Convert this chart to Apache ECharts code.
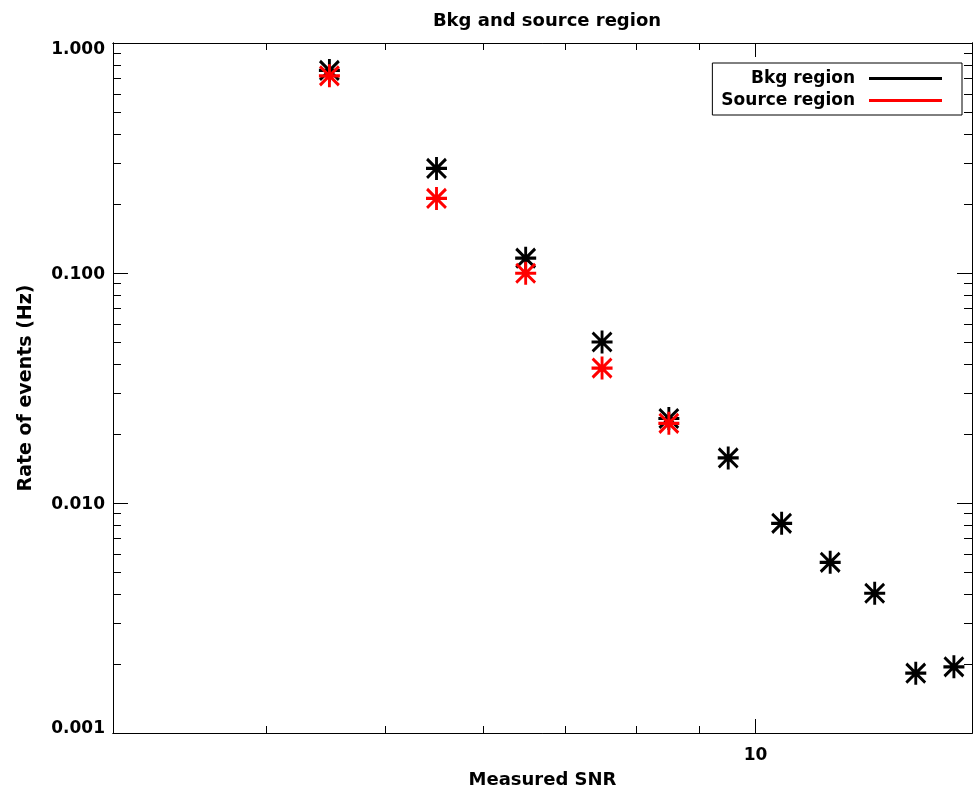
<!DOCTYPE html>
<html>
<head>
<meta charset="utf-8">
<script src="https://cdn.jsdelivr.net/npm/echarts@6/dist/echarts.min.js"></script>
<style>
html,body{margin:0;padding:0;background:#fff;}
#chart{width:977px;height:794px;}
</style>
</head>
<body>
<div id="chart"></div>
<script>
// ---- data ----
var snr = [4.5, 5.5, 6.5, 7.5, 8.5, 9.5, 10.5, 11.5, 12.5, 13.5, 14.5];
var bkgRate = [0.76, 0.285, 0.116, 0.0501, 0.0233, 0.0157, 0.00816, 0.00552, 0.00405, 0.00182, 0.00194];
var srcRate = [0.72, 0.211, 0.0997, 0.0386, 0.0222];
var seriesNames = ['Bkg region', 'Source region'];
var xMajorTicks = [10];
var xMinorTicks = [4, 5, 6, 7, 8, 9];
var yMajorTicks = [0.001, 0.01, 0.1, 1];
var yTickLabels = ['0.001', '0.010', '0.100', '1.000'];
var yMinorTicks = [0.002, 0.003, 0.004, 0.005, 0.006, 0.007, 0.008, 0.009,
                   0.02, 0.03, 0.04, 0.05, 0.06, 0.07, 0.08, 0.09,
                   0.2, 0.3, 0.4, 0.5, 0.6, 0.7, 0.8, 0.9];

var FONT = 'DejaVu Sans';
var lineStyle = {color: '#000', width: 1};

function xAx(pos, ticks, len, labels, extra) {
  var a = {
    type: 'log', logBase: 10, min: 3, max: 15, position: pos,
    axisLine: {show: true, onZero: false, lineStyle: lineStyle},
    axisTick: {show: true, inside: true, length: len, customValues: ticks, lineStyle: lineStyle},
    axisLabel: labels ? {show: true, customValues: ticks, margin: 14, fontFamily: FONT, fontSize: 17,
      fontWeight: 'bold', color: '#000',
      formatter: function (v) { return String(Math.round(v)); }} : {show: false},
    splitLine: {show: false}, minorTick: {show: false}
  };
  return Object.assign(a, extra || {});
}
function yAx(pos, ticks, len, labels, extra) {
  var a = {
    type: 'log', logBase: 10, min: 0.001, max: 1, position: pos,
    axisLine: {show: true, onZero: false, lineStyle: lineStyle},
    axisTick: {show: true, inside: true, length: len, customValues: ticks, lineStyle: lineStyle},
    axisLabel: labels ? {show: true, customValues: ticks, margin: 8, fontFamily: FONT, fontSize: 17, color: '#000',
      formatter: function (v) {
        var i = 0, best = 1e9;
        for (var k = 0; k < yMajorTicks.length; k++) {
          var d = Math.abs(Math.log10(v) - Math.log10(yMajorTicks[k]));
          if (d < best) { best = d; i = k; }
        }
        var key = i === yMajorTicks.length - 1 ? 'top' : (i === 0 ? 'bot' : 'mid');
        return '{' + key + '|' + yTickLabels[i] + '}';
      },
      rich: {
        top: {fontFamily: FONT, fontSize: 17, fontWeight: 'bold', color: '#000', padding: [14, 0, 0, 0]},
        mid: {fontFamily: FONT, fontSize: 17, fontWeight: 'bold', color: '#000', padding: [4, 0, 0, 0]},
        bot: {fontFamily: FONT, fontSize: 17, fontWeight: 'bold', color: '#000', padding: [0, 0, 8, 0]}
      }
    } : {show: false},
    splitLine: {show: false}, minorTick: {show: false}
  };
  return Object.assign(a, extra || {});
}

var starPath = 'path://M10,0L10,22M0,11L20,11M1,2L19,20M1,20L19,2';

function pts(xs, ys) {
  var out = [];
  for (var i = 0; i < ys.length; i++) out.push([xs[i], ys[i]]);
  return out;
}

var chart = echarts.init(document.getElementById('chart'), null, {renderer: 'canvas'});
chart.setOption({
  backgroundColor: '#fff',
  animation: false,
  title: {
    text: 'Bkg and source region',
    left: 542, top: 7, textAlign: 'center',
    textStyle: {fontFamily: FONT, fontSize: 18, fontWeight: 'bold', color: '#000'}
  },
  legend: {
    orient: 'vertical', right: 15, top: 63,
    align: 'right',
    padding: [7, 20, 6, 9],
    itemGap: 5,
    itemWidth: 73, itemHeight: 3,
    borderColor: '#000', borderWidth: 1, borderRadius: 0,
    backgroundColor: '#fff',
    textStyle: {fontFamily: FONT, fontSize: 17, fontWeight: 'bold', color: '#000', padding: [0, 9, 0, 0]},
    data: [
      {name: seriesNames[0], icon: 'rect', itemStyle: {color: '#000', borderWidth: 0, opacity: 1}},
      {name: seriesNames[1], icon: 'rect', itemStyle: {color: '#ff0000', borderWidth: 0, opacity: 1}}
    ]
  },
  grid: {left: 113, right: 5, top: 43, bottom: 61, containLabel: false},
  xAxis: [
    xAx('bottom', xMajorTicks, 14, true, {name: 'Measured SNR', nameLocation: 'middle', nameGap: 38,
      nameTextStyle: {fontFamily: FONT, fontSize: 18, fontWeight: 'bold', color: '#000'}}),
    xAx('bottom', xMinorTicks, 7, false),
    xAx('top', xMajorTicks, 14, false),
    xAx('top', xMinorTicks, 7, false)
  ],
  yAxis: [
    yAx('left', yMajorTicks, 15, true, {name: 'Rate of events (Hz)', nameLocation: 'middle', nameGap: 77,
      nameTextStyle: {fontFamily: FONT, fontSize: 19, fontWeight: 'bold', color: '#000'}}),
    yAx('left', yMinorTicks, 8, false),
    yAx('right', yMajorTicks, 15, false),
    yAx('right', yMinorTicks, 8, false)
  ],
  series: [
    {
      name: seriesNames[0], type: 'scatter', xAxisIndex: 0, yAxisIndex: 0,
      symbol: starPath, symbolSize: [21, 23],
      itemStyle: {color: 'transparent', borderColor: '#000', borderWidth: 3, opacity: 1},
      emphasis: {disabled: true},
      data: pts(snr, bkgRate), z: 2
    },
    {
      name: seriesNames[1], type: 'scatter', xAxisIndex: 0, yAxisIndex: 0,
      symbol: starPath, symbolSize: [21, 23],
      itemStyle: {color: 'transparent', borderColor: '#ff0000', borderWidth: 3, opacity: 1},
      emphasis: {disabled: true},
      data: pts(snr, srcRate), z: 3
    }
  ]
});
</script>
</body>
</html>
